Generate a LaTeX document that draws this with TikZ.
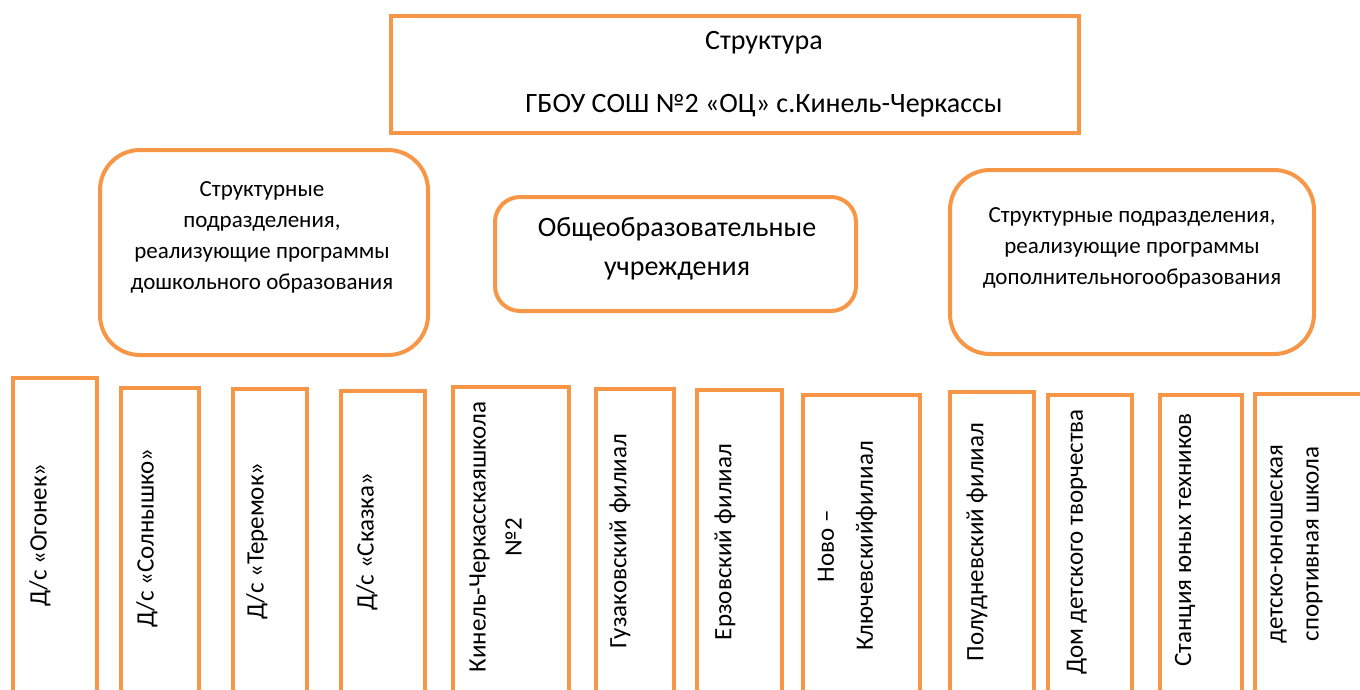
\documentclass[tikz,border=0pt]{standalone}
\usepackage{fontspec}
\setmainfont{Carlito}
\usepackage{tikz}

\definecolor{boxorange}{RGB}{247,150,70}

\begin{document}
\begin{tikzpicture}[x=1pt, y=-1pt]
    % Styles
    \tikzstyle{head} = [rectangle, draw=boxorange, line width=4pt]
    \tikzstyle{group} = [rectangle, draw=boxorange, line width=4pt, rounded corners=40pt]
    \tikzstyle{unit} = [rectangle, draw=boxorange, line width=3.5pt]
    \tikzstyle{headtext} = [align=center, font=\fontsize{28}{32}\selectfont]
    \tikzstyle{grouptext} = [align=center, font=\fontsize{23}{31}\selectfont]
    \tikzstyle{vtext} = [rotate=90, align=center, font=\fontsize{25}{36}\selectfont]

    \useasboundingbox (0,0) rectangle (1360,689);
    \clip (0,0) rectangle (1360,689);

    % Title
    \node[head, minimum width=688pt, minimum height=117pt] (title) at (735,74.5) {};
    \node[headtext] (title-text) at (764,74.5) {Структура\\[31pt]ГБОУ СОШ №2 «ОЦ» с.Кинель-Черкассы};

    % Groups
    \node[group, minimum width=328pt, minimum height=205pt] (preschool) at (264,252.5) {};
    \node[grouptext] (preschool-text) at (262,237) {Структурные\\подразделения,\\реализующие программы\\дошкольного образования};

    \node[group, rounded corners=25pt, minimum width=361pt, minimum height=114pt] (general) at (675.5,254) {};
    \node[headtext, font=\fontsize{28}{39}\selectfont] (general-text) at (677,248.5) {Общеобразовательные\\учреждения};

    \node[group, minimum width=364pt, minimum height=184pt] (extra) at (1132,262) {};
    \node[grouptext] (extra-text) at (1132,247.5) {Структурные подразделения,\\реализующие программы\\дополнительногообразования};

    % Kindergartens
    \node[unit, minimum width=84pt, minimum height=322pt] (ogonek) at (55,539) {};
    \node[vtext] (ogonek-text) at (40,535) {Д/с «Огонек»};

    \node[unit, minimum width=78pt, minimum height=312pt] (solnyshko) at (160,544) {};
    \node[vtext] (solnyshko-text) at (147,538) {Д/с «Солнышко»};

    \node[unit, minimum width=74pt, minimum height=311pt] (teremok) at (270,544.5) {};
    \node[vtext] (teremok-text) at (257,541) {Д/с «Теремок»};

    \node[unit, minimum width=84pt, minimum height=309pt] (skazka) at (383,545.5) {};
    \node[vtext] (skazka-text) at (367,542) {Д/с «Сказка»};

    % Schools
    \node[unit, minimum width=116pt, minimum height=313pt] (school) at (511,543.5) {};
    \node[vtext] (school-text) at (495.5,537) {Кинель-Черкасскаяшкола\\№2};

    \node[unit, minimum width=78pt, minimum height=311pt] (guzov) at (635,544.5) {};
    \node[vtext] (guzov-text) at (620,541) {Гузаковский филиал};

    \node[unit, minimum width=85pt, minimum height=310pt] (erzov) at (739.5,545) {};
    \node[vtext] (erzov-text) at (725,542) {Ерзовский филиал};

    \node[unit, minimum width=117pt, minimum height=305pt] (novo) at (861.5,547.5) {};
    \node[vtext] (novo-text) at (847.5,546) {Ново –\\[3pt]Ключевскийфилиал};

    \node[unit, minimum width=84pt, minimum height=308pt] (polud) at (992,546) {};
    \node[vtext] (polud-text) at (977,542) {Полудневский филиал};

    % Additional education
    \node[unit, minimum width=84pt, minimum height=305pt] (ddt) at (1090,547.5) {};
    \node[vtext] (ddt-text) at (1077,542) {Дом детского творчества};

    \node[unit, minimum width=82pt, minimum height=305pt] (syut) at (1201,547.5) {};
    \node[vtext] (syut-text) at (1185,540) {Станция юных техников};

    \node[unit, minimum width=110pt, minimum height=306pt] (sport) at (1310,547) {};
    \node[vtext] (sport-text) at (1296.5,544) {детско-юношеская\\спортивная школа};
\end{tikzpicture}
\end{document}
